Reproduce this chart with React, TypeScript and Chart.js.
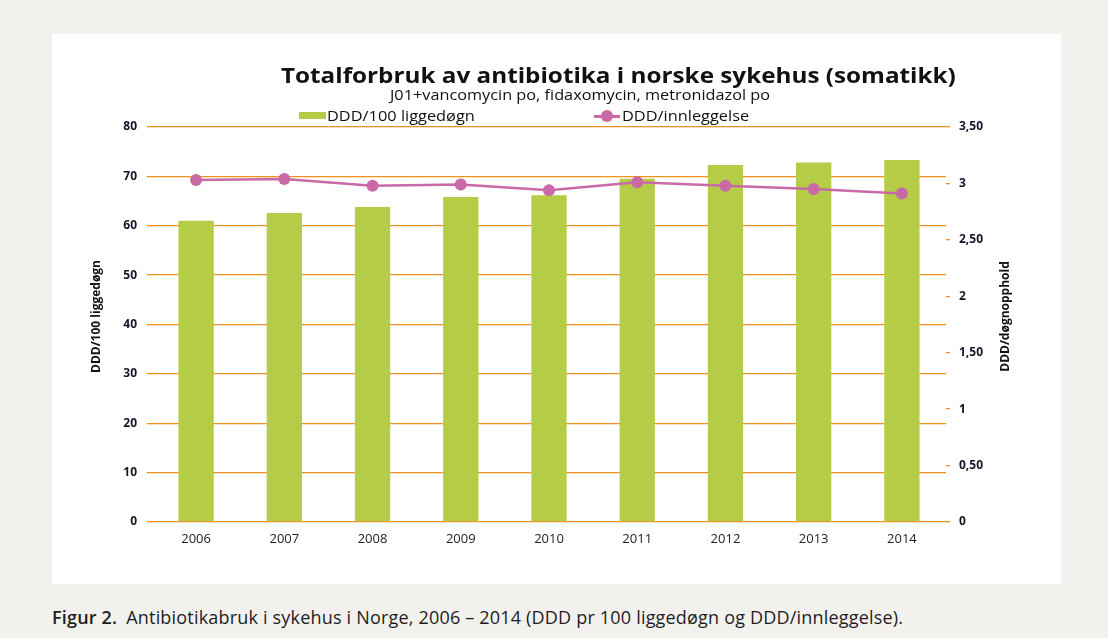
import React, { useEffect, useRef } from "react";
import { Chart, registerables } from "chart.js";

Chart.register(...registerables);

// ---- Data ----
const years = ["2006", "2007", "2008", "2009", "2010", "2011", "2012", "2013", "2014"];
const dddPer100BedDays = [61.0, 62.6, 63.8, 65.8, 66.2, 69.5, 72.3, 72.8, 73.3];
const dddPerAdmission = [3.03, 3.04, 2.98, 2.99, 2.94, 3.01, 2.98, 2.95, 2.91];
const leftTickLabels = ["0", "10", "20", "30", "40", "50", "60", "70", "80"];
const rightTickLabels = ["0", "0,50", "1", "1,50", "2", "2,50", "3", "3,50"];

// ---- Texts ----
const titleText = "Totalforbruk av antibiotika i norske sykehus (somatikk)";
const subtitleText = "J01+vancomycin po, fidaxomycin, metronidazol po";
const seriesNames = ["DDD/100 liggedøgn", "DDD/innleggelse"];
const axisTitles = ["DDD/100 liggedøgn", "DDD/døgnopphold"];
const captionLead = "Figur 2.";
const captionText =
  "Antibiotikabruk i sykehus i Norge, 2006 – 2014 (DDD pr 100 liggedøgn og DDD/innleggelse).";

// ---- Styles ----
const BAR_COLOR = "#b4cc46";
const LINE_COLOR = "#c96aa7";
const GRID_COLOR = "#f0921c";
const TICK_COLOR = "#14142a";
const FONT = "'Open Sans', 'DejaVu Sans', sans-serif";

const axisTitlePlugin = {
  id: "axisTitlesRotated",
  afterDraw(chart: any) {
    const ctx = chart.ctx;
    const { top, bottom } = chart.chartArea;
    const cy = (top + bottom) / 2 - 8;
    const yl = chart.scales.y;
    const yr = chart.scales.y1;
    ctx.save();
    ctx.font = "bold 12px " + FONT;
    ctx.fillStyle = "#111111";
    ctx.textAlign = "center";
    ctx.textBaseline = "middle";
    const items: [number, string][] = [
      [yl.left + 45, axisTitles[0]],
      [yr.left + 60, axisTitles[1]],
    ];
    for (const [x, t] of items) {
      ctx.save();
      ctx.translate(x, cy);
      ctx.rotate(-Math.PI / 2);
      ctx.fillText(t, 0, 0);
      ctx.restore();
    }
    ctx.restore();
  },
};

const stretched = (sx: number): React.CSSProperties => ({
  transform: `scaleX(${sx})`,
  transformOrigin: "left center",
});

export default function App() {
  const canvasRef = useRef<HTMLCanvasElement | null>(null);

  useEffect(() => {
    if (!canvasRef.current) return;
    const chart = new Chart(canvasRef.current, {
      type: "bar",
      data: {
        labels: years,
        datasets: [
          {
            type: "line",
            label: seriesNames[1],
            data: dddPerAdmission,
            yAxisID: "y1",
            borderColor: LINE_COLOR,
            backgroundColor: LINE_COLOR,
            borderWidth: 2.5,
            pointRadius: 6,
            pointBackgroundColor: LINE_COLOR,
            pointBorderColor: LINE_COLOR,
            pointBorderWidth: 0,
            tension: 0,
            order: 0,
          } as any,
          {
            type: "bar",
            label: seriesNames[0],
            data: dddPer100BedDays,
            yAxisID: "y",
            backgroundColor: BAR_COLOR,
            borderWidth: 0,
            barPercentage: 0.4,
            categoryPercentage: 1.0,
            order: 1,
          },
        ],
      },
      options: {
        responsive: false,
        animation: false,
        devicePixelRatio: 1,
        layout: { padding: { top: 93, left: 0, right: 0, bottom: 0 } },
        plugins: {
          legend: { display: false },
          title: { display: false },
          tooltip: { enabled: false },
        },
        scales: {
          x: {
            grid: { display: false },
            border: { display: false },
            ticks: {
              color: "#222222",
              font: { family: FONT, size: 13 },
              padding: 1,
              maxRotation: 0,
            },
            afterFit: (s: any) => {
              s.height = 62;
            },
          },
          y: {
            position: "left",
            min: 0,
            max: 80,
            grid: {
              color: GRID_COLOR,
              lineWidth: 1.3,
              drawTicks: true,
              tickLength: 5,
            },
            border: { display: false },
            ticks: {
              stepSize: 10,
              color: TICK_COLOR,
              font: { family: FONT, size: 12, weight: "bold" },
              padding: 10,
              callback: (v: any) => leftTickLabels[Math.round(Number(v) / 10)],
            },
            afterFit: (s: any) => {
              s.width = 100;
            },
          },
          y1: {
            position: "right",
            min: 0,
            max: 3.5,
            grid: {
              display: true,
              drawOnChartArea: false,
              drawTicks: true,
              tickLength: 4,
              color: GRID_COLOR,
              lineWidth: 1.3,
            },
            border: { display: false },
            ticks: {
              stepSize: 0.5,
              color: TICK_COLOR,
              font: { family: FONT, size: 12, weight: "bold" },
              padding: 9,
              callback: (v: any) => rightTickLabels[Math.round(Number(v) / 0.5)],
            },
            afterFit: (s: any) => {
              s.width = 115;
            },
          },
        },
      } as any,
      plugins: [axisTitlePlugin],
    });
    return () => chart.destroy();
  }, []);

  return (
    <div
      style={{
        position: "absolute",
        left: 0,
        top: 0,
        width: 1108,
        height: 638,
        background: "#f2f1ed",
        fontFamily: FONT,
        overflow: "hidden",
        color: "#111",
      }}
    >
      <div
        style={{
          position: "absolute",
          left: 52,
          top: 34,
          width: 1009,
          height: 550,
          background: "#ffffff",
        }}
      >
        <canvas
          ref={canvasRef}
          width={1009}
          height={550}
          style={{ position: "absolute", left: 0, top: 0, width: 1009, height: 550 }}
        />
      </div>

      <div
        style={{
          position: "absolute",
          left: 281,
          top: 63,
          fontSize: 22,
          lineHeight: "22px",
          fontWeight: 700,
          whiteSpace: "nowrap",
          color: "#111",
          ...stretched(1.103),
        }}
      >
        {titleText}
      </div>
      <div
        style={{
          position: "absolute",
          left: 390,
          top: 87,
          fontSize: 15,
          lineHeight: "15px",
          whiteSpace: "nowrap",
          color: "#111",
          ...stretched(1.085),
        }}
      >
        {subtitleText}
      </div>

      {/* legend */}
      <div
        style={{
          position: "absolute",
          left: 299,
          top: 112,
          width: 27,
          height: 7,
          background: BAR_COLOR,
        }}
      />
      <div
        style={{
          position: "absolute",
          left: 327,
          top: 107.7,
          fontSize: 15,
          lineHeight: "15px",
          whiteSpace: "nowrap",
          color: "#111",
          ...stretched(1.09),
        }}
      >
        {seriesNames[0]}
      </div>
      <div
        style={{
          position: "absolute",
          left: 594,
          top: 114.5,
          width: 26,
          height: 3,
          background: LINE_COLOR,
        }}
      />
      <div
        style={{
          position: "absolute",
          left: 601,
          top: 110,
          width: 12,
          height: 12,
          borderRadius: 6,
          background: LINE_COLOR,
        }}
      />
      <div
        style={{
          position: "absolute",
          left: 622,
          top: 107.7,
          fontSize: 15,
          lineHeight: "15px",
          whiteSpace: "nowrap",
          color: "#111",
          ...stretched(1.09),
        }}
      >
        {seriesNames[1]}
      </div>

      {/* caption */}
      <div
        style={{
          position: "absolute",
          left: 52,
          top: 608.3,
          fontSize: 18,
          lineHeight: "18px",
          whiteSpace: "nowrap",
          color: "#1e1e1e",
          letterSpacing: 0.19,
        }}
      >
        <span style={{ fontWeight: 600, marginRight: 9 }}>{captionLead}</span>
        {captionText}
      </div>
    </div>
  );
}
